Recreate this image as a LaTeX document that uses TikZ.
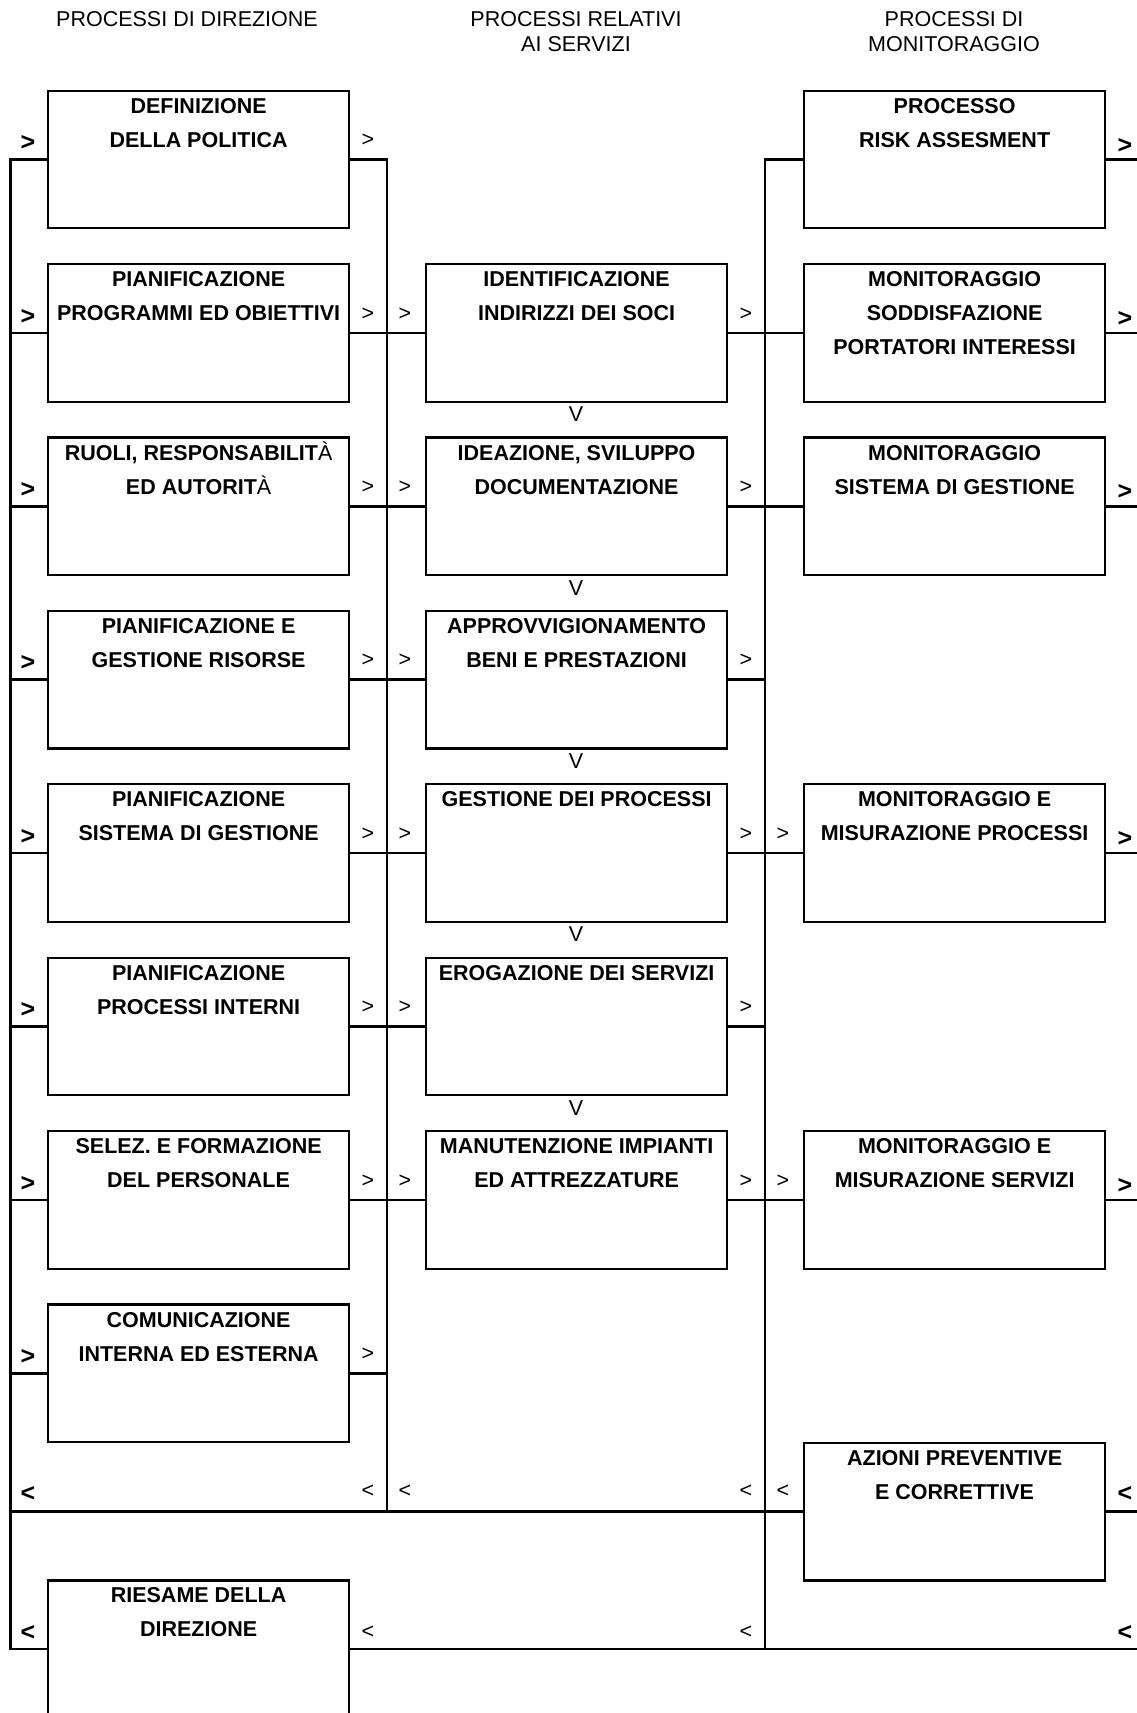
\documentclass[tikz,border=0pt]{standalone}
\usepackage{fontspec}
\setmainfont{Liberation Sans}
\newcommand\bxt[1]{\parbox[t][137.6pt][t]{301pt}{\centering\rule{0pt}{22.5pt}#1}}
\begin{document}
\begin{tikzpicture}[x=1pt,y=-1pt,
 boxnode/.style={draw, line width=2.2pt, inner sep=0pt, anchor=north west, font=\fontsize{21.5}{34}\selectfont\bfseries},
 conn/.style={line width=2.5pt, line cap=rect},
 sm/.style={font=\fontsize{21.5}{25}\selectfont, anchor=base, inner sep=0pt},
 lg/.style={font=\fontsize{25}{25}\selectfont\bfseries, anchor=base, inner sep=0pt},
 hdr/.style={font=\fontsize{21.5}{25}\selectfont, anchor=base, inner sep=0pt}]
\clip (0,0) rectangle (1137,1713);
\useasboundingbox (0,0) rectangle (1137,1713);
% headers
\node[hdr] (h1) at (187,26.7) {PROCESSI DI DIREZIONE};
\node[hdr] (h2) at (576,26.7) {\parbox[t]{320pt}{\centering PROCESSI RELATIVI\\AI SERVIZI}};
\node[hdr] (h3) at (954,26.7) {\parbox[t]{320pt}{\centering PROCESSI DI\\MONITORAGGIO}};
% left column
\node[boxnode] (L0) at (47,89.6) {\bxt{DEFINIZIONE\\DELLA POLITICA}};
\node[boxnode] (L1) at (47,263.0) {\bxt{PIANIFICAZIONE\\PROGRAMMI ED OBIETTIVI}};
\node[boxnode] (L2) at (47,436.4) {\bxt{RUOLI, RESPONSABILIT{\mdseries À}\\ED AUTORIT{\mdseries À}}};
\node[boxnode] (L3) at (47,609.8) {\bxt{PIANIFICAZIONE E\\GESTIONE RISORSE}};
\node[boxnode] (L4) at (47,783.2) {\bxt{PIANIFICAZIONE\\SISTEMA DI GESTIONE}};
\node[boxnode] (L5) at (47,956.6) {\bxt{PIANIFICAZIONE\\PROCESSI INTERNI}};
\node[boxnode] (L6) at (47,1130.0) {\bxt{SELEZ. E FORMAZIONE\\DEL PERSONALE}};
\node[boxnode] (L7) at (47,1303.4) {\bxt{COMUNICAZIONE\\INTERNA ED ESTERNA}};
\node[boxnode] (LR) at (47,1579.3) {\bxt{RIESAME DELLA\\DIREZIONE}};
% middle column
\node[boxnode] (M1) at (425,263.0) {\bxt{IDENTIFICAZIONE\\INDIRIZZI DEI SOCI}};
\node[boxnode] (M2) at (425,436.4) {\bxt{IDEAZIONE, SVILUPPO\\DOCUMENTAZIONE}};
\node[boxnode] (M3) at (425,609.8) {\bxt{APPROVVIGIONAMENTO\\BENI E PRESTAZIONI}};
\node[boxnode] (M4) at (425,783.2) {\bxt{GESTIONE DEI PROCESSI}};
\node[boxnode] (M5) at (425,956.6) {\bxt{EROGAZIONE DEI SERVIZI}};
\node[boxnode] (M6) at (425,1130.0) {\bxt{MANUTENZIONE IMPIANTI\\ED ATTREZZATURE}};
% right column
\node[boxnode] (R0) at (803,89.6) {\bxt{PROCESSO\\RISK ASSESMENT}};
\node[boxnode] (R1) at (803,263.0) {\bxt{MONITORAGGIO\\SODDISFAZIONE\\PORTATORI INTERESSI}};
\node[boxnode] (R2) at (803,436.4) {\bxt{MONITORAGGIO\\SISTEMA DI GESTIONE}};
\node[boxnode] (R4) at (803,783.2) {\bxt{MONITORAGGIO E\\MISURAZIONE PROCESSI}};
\node[boxnode] (R6) at (803,1130.0) {\bxt{MONITORAGGIO E\\MISURAZIONE SERVIZI}};
\node[boxnode] (RA) at (803,1441.7) {\bxt{AZIONI PREVENTIVE\\E CORRETTIVE}};
% trunk x positions
\coordinate (lt) at (10.5,0);
\coordinate (mt) at (387,0);
\coordinate (rt) at (765,0);
\coordinate (re) at (1137,0);
% trunks
\draw[conn] (L0.west -| lt) -- (LR.west -| lt);
\draw[conn] (L0.east -| mt) -- (RA.west -| mt);
\draw[conn] (R0.west -| rt) -- (LR.east -| rt);
% stubs
\foreach \n in {L0,L1,L2,L3,L4,L5,L6,L7}{
  \draw[conn] (\n.west -| lt) -- (\n.west);
  \draw[conn] (\n.east) -- (\n.east -| mt);
}
\foreach \n in {M1,M2,M3,M4,M5,M6}{
  \draw[conn] (\n.west -| mt) -- (\n.west);
  \draw[conn] (\n.east) -- (\n.east -| rt);
}
\foreach \n in {R0,R1,R2,R4,R6}{
  \draw[conn] (\n.west -| rt) -- (\n.west);
  \draw[conn] (\n.east) -- (\n.east -| re);
}
\draw[conn] (RA.west -| lt) -- (RA.west);
\draw[conn] (RA.east) -- (RA.east -| re);
\draw[conn] (LR.west -| lt) -- (LR.west);
\draw[conn] (LR.east) -- (LR.east -| re);
% arrow-like labels
\foreach \i in {0,...,7}{
  \pgfmathsetmacro\ty{89.6+173.4*\i}
  \node[lg] (gl\i) at (28,\ty+61) {>};
  \node[sm] (gr\i) at (368,\ty+57) {>};
}
\foreach \i in {1,...,6}{
  \pgfmathsetmacro\ty{89.6+173.4*\i}
  \node[sm] (ml\i) at (405,\ty+57) {>};
  \node[sm] (mr\i) at (746,\ty+57) {>};
}
\foreach \i in {4,6}{
  \pgfmathsetmacro\ty{89.6+173.4*\i}
  \node[sm] (rl\i) at (783,\ty+57) {>};
}
\foreach \i in {0,1,2,4,6}{
  \pgfmathsetmacro\ty{89.6+173.4*\i}
  \node[lg] (rr\i) at (1125,\ty+63.5) {>};
}
\foreach \i in {1,...,5}{
  \pgfmathsetmacro\ty{89.6+173.4*\i+137.6+21}
  \node[sm] (v\i) at (576,\ty) {V};
}
% back-flow labels
\node[lg] (ba1) at (28,1501.5) {<};
\node[sm] (ba2) at (368,1497.5) {<};
\node[sm] (ba3) at (405,1497.5) {<};
\node[sm] (ba4) at (746,1497.5) {<};
\node[sm] (ba5) at (783,1497.5) {<};
\node[lg] (ba6) at (1125,1501.5) {<};
\node[lg] (bb1) at (28,1640) {<};
\node[sm] (bb2) at (368,1638) {<};
\node[sm] (bb3) at (746,1638) {<};
\node[lg] (bb4) at (1125,1640) {<};
\end{tikzpicture}
\end{document}
